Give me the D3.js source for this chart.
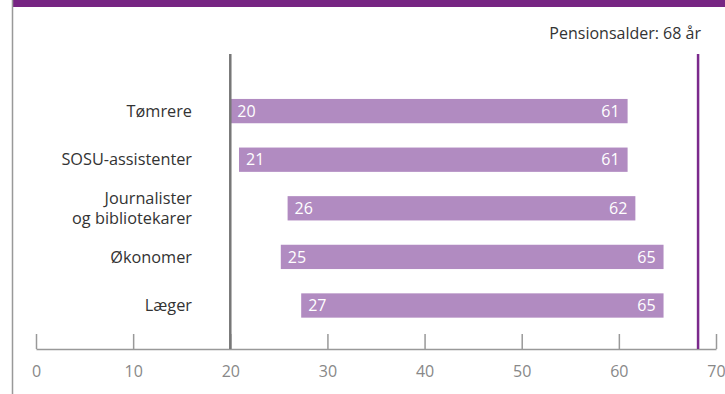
<!DOCTYPE html>
<html>
<head>
<meta charset="utf-8">
<script src="https://cdn.jsdelivr.net/npm/d3@7"></script>
<style>
  body { margin: 0; background: #fff; }
  svg { display: block; font-family: "Open Sans", sans-serif; }
</style>
</head>
<body>
<div id="chart"></div>
<script>
// occupations, top to bottom
var categories = ['Tømrere', 'SOSU-assistenter', 'Journalister\nog bibliotekarer', 'Økonomer', 'Læger']
// age when entering the labour market / leaving it
var startAge = [20, 20.9, 25.9, 25.2, 27.3]
var endAge = [60.9, 60.9, 61.7, 64.6, 64.6]
var startLabels = ['20', '21', '26', '25', '27']
var endLabels = ['61', '61', '62', '65', '65']
var xTicks = [0, 10, 20, 30, 40, 50, 60, 70]
var pensionAge = 68
var pensionText = 'Pensionsalder: 68 år'

var width = 725
var height = 394

var svg = d3.select('#chart')
    .append('svg')
    .attr('width', width)
    .attr('height', height)

var x = d3.scaleLinear().domain([0, 70]).range([36, 716])
var y = d3.scaleBand()
    .domain(categories)
    .range([86.8, 329.8])
    .paddingInner(0.5)
    .paddingOuter(0.25)

var axisY = 349

// top purple band and left border
svg.append('rect')
    .attr('x', 13)
    .attr('y', 0)
    .attr('width', width - 13)
    .attr('height', 7)
    .attr('fill', '#772583')

svg.append('line')
    .attr('x1', 12.5).attr('x2', 12.5)
    .attr('y1', 0).attr('y2', height)
    .attr('stroke', '#999')
    .attr('stroke-width', 1.5)

// bars
var rows = categories.map((c, i) => ({
    cat: c, start: startAge[i], end: endAge[i], s: startLabels[i], e: endLabels[i]
}))

svg.append('g')
    .selectAll('rect')
    .data(rows)
    .enter().append('rect')
      .attr('x', d => x(d.start))
      .attr('y', d => y(d.cat))
      .attr('width', d => x(d.end) - x(d.start))
      .attr('height', y.bandwidth())
      .attr('fill', '#b18bc1')

svg.append('g')
    .selectAll('text')
    .data(rows)
    .enter().append('text')
      .attr('x', d => x(d.start) + 7)
      .attr('y', d => y(d.cat) + y.bandwidth() / 2)
      .attr('dy', '0.36em')
      .attr('fill', '#fff')
      .attr('font-size', 16)
      .text(d => d.s)

svg.append('g')
    .selectAll('text')
    .data(rows)
    .enter().append('text')
      .attr('x', d => x(d.end) - 8)
      .attr('y', d => y(d.cat) + y.bandwidth() / 2)
      .attr('dy', '0.36em')
      .attr('text-anchor', 'end')
      .attr('fill', '#fff')
      .attr('font-size', 16)
      .text(d => d.e)

// category labels, one text per line
var labelLines = []
categories.forEach(c => {
    var lines = c.split('\n')
    lines.forEach((l, i) => {
        labelLines.push({cat: c, text: l, offset: (i - (lines.length - 1) / 2) * 20.5})
    })
})

svg.append('g')
    .attr('text-anchor', 'end')
    .attr('font-size', 16.3)
    .attr('fill', '#333')
    .selectAll('text')
    .data(labelLines)
    .enter().append('text')
      .attr('x', 192)
      .attr('y', d => y(d.cat) + y.bandwidth() / 2 + d.offset)
      .attr('dy', '0.35em')
      .text(d => d.text)

// x axis
var axis = svg.append('g')
    .attr('transform', `translate(0, ${axisY})`)
    .call(d3.axisBottom(x).tickValues(xTicks).tickSize(-15).tickPadding(17).tickSizeOuter(0))

axis.select('.domain').attr('stroke', '#999').attr('stroke-width', 1.5)
axis.selectAll('.tick line').attr('stroke', '#999').attr('stroke-width', 1.5)
axis.selectAll('.tick text')
    .attr('fill', '#888')
    .attr('font-size', 16)
    .attr('font-family', '"Open Sans", sans-serif')

// reference line at 20
svg.append('line')
    .attr('x1', x(20)).attr('x2', x(20))
    .attr('y1', 54).attr('y2', axisY)
    .attr('stroke', '#777')
    .attr('stroke-width', 2.5)

// pension age line
svg.append('line')
    .attr('x1', x(pensionAge) + 1.5).attr('x2', x(pensionAge) + 1.5)
    .attr('y1', 54).attr('y2', axisY)
    .attr('stroke', '#7b2a8c')
    .attr('stroke-width', 2.5)

svg.append('text')
    .attr('x', 701)
    .attr('y', 33)
    .attr('dy', '0.35em')
    .attr('text-anchor', 'end')
    .attr('font-size', 16)
    .attr('fill', '#333')
    .text(pensionText)
</script>
</body>
</html>
